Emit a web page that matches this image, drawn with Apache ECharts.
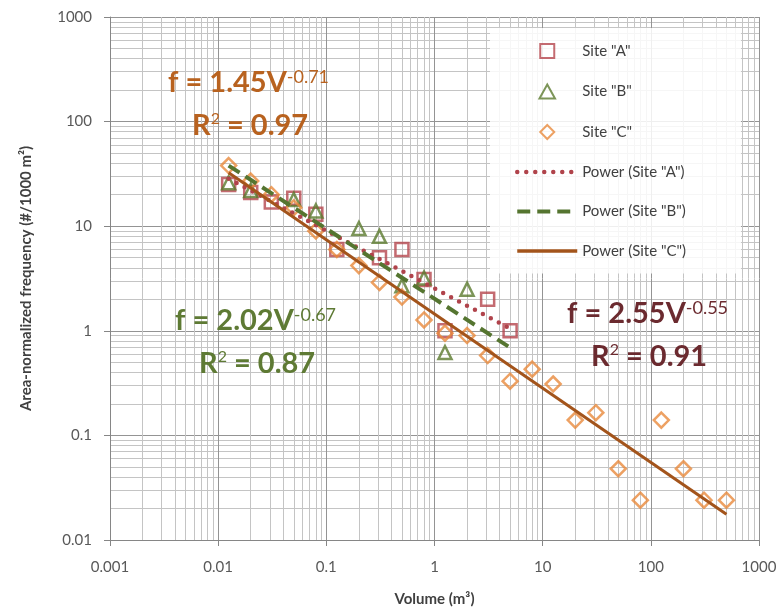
<!DOCTYPE html>
<html>
<head>
<meta charset="utf-8">
<script src="https://cdn.jsdelivr.net/npm/echarts@6/dist/echarts.min.js"></script>
<style>
    html, body { margin: 0; padding: 0; background: #fff; }
    #chart { width: 783px; height: 613px; }
</style>
</head>
<body>
<div id="chart"></div>
<script>
    // volumes (m3) and area-normalized frequencies
    var volA = [0.0125, 0.02, 0.031, 0.05, 0.08, 0.125, 0.31, 0.5, 0.8, 1.25, 3.1, 5]
    var freqA = [25, 21, 17, 18.5, 13, 6, 5, 6, 3.1, 1, 2, 1]

    var volB = [0.0125, 0.02, 0.05, 0.08, 0.2, 0.31, 0.5, 0.8, 1.25, 2]
    var freqB = [26, 22, 18, 14, 9.5, 8, 2.7, 3.2, 0.62, 2.5]

    var volC = [0.0125, 0.02, 0.031, 0.05, 0.08, 0.125, 0.2, 0.31, 0.5, 0.8, 1.25, 2, 3.1, 5, 8, 12.5, 20, 31, 50, 80, 125, 200, 310, 500]
    var freqC = [38, 27, 20, 15, 9, 6, 4.2, 2.9, 2.1, 1.27, 0.95, 0.9, 0.58, 0.33, 0.43, 0.31, 0.14, 0.165, 0.048, 0.024, 0.14, 0.048, 0.024, 0.024]

    // power trendline end points
    var trendA = [[0.0125, 28.4], [5, 1.05]]
    var trendB = [[0.0125, 38], [5, 0.69]]
    var trendC = [[0.0125, 32.5], [500, 0.0176]]

    var xTickLabels = ['0.001', '0.01', '0.1', '1', '10', '100', '1000']
    var yTickLabels = ['0.01', '0.1', '1', '10', '100', '1000']

    var colA = '#b5464e', colB = '#5b7a2e', colC = '#e98a3c'
    var font = 'Lato'

    function pairs (xs, ys) {
        return xs.map(function (x, i) { return [x, ys[i]] })
    }
    function tickFmt (labels, minExp) {
        return function (v) {
            var i = Math.round(Math.log10(v)) - minExp
            return labels[i] !== undefined ? labels[i] : ''
        }
    }

    function eq (left, top, color, main, sup, r2) {
        var rich = {
            m: { fontSize: 29, fontWeight: 'bold', fontFamily: font, fill: color, color: color },
            s: { fontSize: 18, fontFamily: font, fill: color, color: color, verticalAlign: 'top' },
            r: { fontSize: 16, fontFamily: font, fill: color, color: color, verticalAlign: 'top' }
        }
        return [{
            type: 'text', left: left, top: top, z: 10,
            style: { text: '{m|' + main + '}{s|' + sup + '}', rich: rich }
        }, {
            type: 'text', left: left + 24, top: top + 43, z: 10,
            style: { text: '{m|R}{r|2}{m| = ' + r2 + '}', rich: rich }
        }]
    }

    var axisCommon = {
        type: 'log',
        logBase: 10,
        nameLocation: 'middle',
        nameTextStyle: { fontWeight: 'bold', fontSize: 15, color: '#404040', fontFamily: font },
        axisLine: { show: true, lineStyle: { color: '#868686', width: 1 } },
        axisTick: { show: true, length: 6, lineStyle: { color: '#868686' } },
        minorTick: { show: false, splitNumber: 9 },
        splitLine: { show: true, lineStyle: { color: '#949494', width: 1 } },
        minorSplitLine: { show: true, lineStyle: { color: '#c4c4c4', width: 1 } }
    }

    var hideDot = { opacity: 0, color: 'rgba(0,0,0,0)', borderWidth: 0 }

    var option = {
        animation: false,
        backgroundColor: '#fff',
        grid: { left: 110, right: 24, top: 17, bottom: 73 },
        xAxis: Object.assign({}, axisCommon, {
            min: 0.001, max: 1000,
            name: 'Volume (m³)',
            nameGap: 52,
            axisLabel: { fontSize: 15, color: '#595959', margin: 20, fontFamily: font, formatter: tickFmt(xTickLabels, -3) }
        }),
        yAxis: Object.assign({}, axisCommon, {
            min: 0.01, max: 1000,
            name: 'Area-normalized frequency (#/1000 m²)',
            nameGap: 76,
            axisLabel: { fontSize: 15, color: '#595959', margin: 18, fontFamily: font, formatter: tickFmt(yTickLabels, -2) }
        }),
        legend: {
            orient: 'vertical',
            left: 490, top: 28,
            padding: [15, 55, 15, 25],
            backgroundColor: 'rgba(255,255,255,0.85)',
            itemWidth: 60, itemHeight: 14, itemGap: 24.5,
            textStyle: { fontSize: 15, color: '#404040', fontFamily: font },
            data: [
                { name: 'Site "A"', icon: 'path://M0,0H10V10H0Z' },
                { name: 'Site "B"', icon: 'path://M5,0L10,9L0,9Z' },
                { name: 'Site "C"', icon: 'path://M5,0L10,5L5,10L0,5Z' },
                { name: 'Power (Site "A")', itemStyle: hideDot, lineStyle: { width: 4.5 } },
                { name: 'Power (Site "B")', itemStyle: hideDot, lineStyle: { width: 4 } },
                { name: 'Power (Site "C")', itemStyle: hideDot, lineStyle: { width: 3.5 } }
            ]
        },
        graphic: [].concat(
            eq(168, 68, '#b8621f', 'f = 1.45V', '-0.71', '0.97'),
            eq(175, 306, '#5e7a34', 'f = 2.02V', '-0.67', '0.87'),
            eq(567, 299, '#6b2a2f', 'f = 2.55V', '-0.55', '0.91')
        ),
        series: [
            {
                name: 'Site "A"', type: 'scatter', symbol: 'rect', symbolSize: 13,
                itemStyle: { color: 'rgba(0,0,0,0)', borderColor: colA, borderWidth: 2.5 },
                data: pairs(volA, freqA)
            },
            {
                name: 'Site "B"', type: 'scatter', symbol: 'triangle', symbolSize: 13,
                itemStyle: { color: 'rgba(0,0,0,0)', borderColor: colB, borderWidth: 2.5 },
                data: pairs(volB, freqB)
            },
            {
                name: 'Site "C"', type: 'scatter', symbol: 'diamond', symbolSize: 15,
                itemStyle: { color: 'rgba(0,0,0,0)', borderColor: colC, borderWidth: 2.5 },
                data: pairs(volC, freqC)
            },
            {
                name: 'Power (Site "A")', type: 'line', symbol: 'none', z: 5,
                lineStyle: { color: '#b0434b', width: 4.5, type: [0, 9], cap: 'round' },
                itemStyle: { color: '#b0434b' },
                data: trendA
            },
            {
                name: 'Power (Site "B")', type: 'line', symbol: 'none', z: 5,
                lineStyle: { color: '#557530', width: 4, type: [13, 7] },
                itemStyle: { color: '#557530' },
                data: trendB
            },
            {
                name: 'Power (Site "C")', type: 'line', symbol: 'none', z: 5,
                lineStyle: { color: '#a3541b', width: 3 },
                itemStyle: { color: '#a3541b' },
                data: trendC
            }
        ]
    }

    var myChart = echarts.init(document.getElementById('chart'))
    myChart.setOption(option)
</script>
</body>
</html>
